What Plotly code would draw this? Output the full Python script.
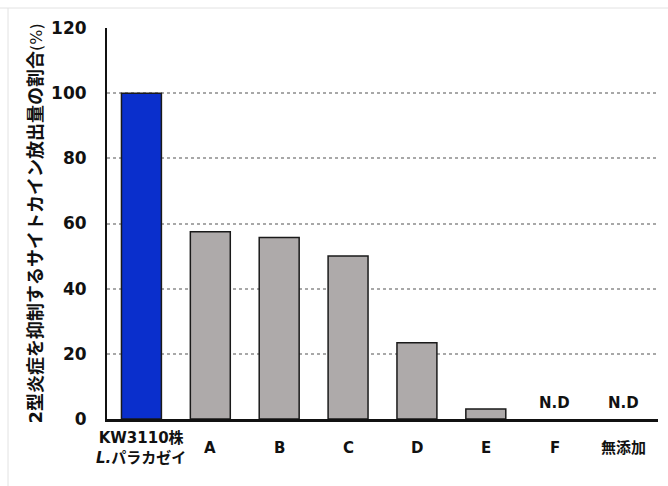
import plotly.graph_objects as go

# Categories and values (% of cytokine release relative to KW3110)
categories = ["KW3110", "A", "B", "C", "D", "E", "F", "無添加"]
tick_labels = ["KW3110株<br><i>L.</i>パラカゼイ", "A", "B", "C", "D", "E", "F", "無添加"]
values = [100, 57.5, 55.7, 50.0, 23.4, 3.1, 0, 0]
nd_categories = ["F", "無添加"]

bar_colors = ["#0a2fcc"] + ["#aeaaaa"] * 7
outline_widths = [1.5 if v > 0 else 0 for v in values]
FONT = "DejaVu Sans, Noto Sans CJK JP, sans-serif"

fig = go.Figure()
fig.add_trace(go.Bar(
    x=categories,
    y=values,
    width=0.58,
    marker=dict(color=bar_colors, line=dict(color="#1a1a1a", width=outline_widths)),
    hoverinfo="x+y",
))

# Category labels below the axis
annotations = []
for cat, lab in zip(categories, tick_labels):
    annotations.append(dict(
        x=cat, y=0, xref="x", yref="y", text=f"<b>{lab}</b>",
        showarrow=False, yanchor="middle", xanchor="center",
        yshift=-29, font=dict(family=FONT, size=15, color="#111"),
    ))

# "N.D" markers for undetected samples
for cat in nd_categories:
    annotations.append(dict(
        x=cat, y=0, xref="x", yref="y", text="<b>N.D</b>",
        showarrow=False, yanchor="middle", yshift=16,
        font=dict(family=FONT, size=15, color="#111"),
    ))

# Y-axis title
annotations.append(dict(
    x=0, y=0.5, xref="paper", yref="paper",
    text="<b>2型炎症を抑制するサイトカイン放出量の割合</b><span style='font-size:16px'>(%)</span>",
    textangle=-90, showarrow=False, xanchor="center", yanchor="middle",
    xshift=-72, font=dict(family=FONT, size=18, color="#111"),
))

fig.update_layout(
    width=668, height=486,
    margin=dict(l=107, r=10, t=28, b=67),
    paper_bgcolor="white", plot_bgcolor="white",
    showlegend=False,
    annotations=annotations,
    xaxis=dict(
        range=[-0.5, 7.5], showticklabels=False, ticks="",
        showline=True, linecolor="#111", linewidth=3, showgrid=False,
        fixedrange=True,
    ),
    yaxis=dict(
        range=[0, 120], tickvals=[0, 20, 40, 60, 80, 100, 120],
        showline=True, linecolor="#111", linewidth=2,
        showgrid=True, gridcolor="#a8a8a8", gridwidth=2, griddash="dot",
        zeroline=False, ticks="", ticklabelstandoff=15,
        tickfont=dict(family=FONT, size=17, color="#111", weight="bold"),
        fixedrange=True,
    ),
    shapes=[
        dict(type="line", xref="paper", yref="paper", x0=-107/551, x1=1.02,
             y0=1 + 20/391, y1=1 + 20/391, line=dict(color="#e2e2e2", width=1)),
        dict(type="line", xref="paper", yref="paper", x0=-99/551, x1=-99/551,
             y0=-67/391, y1=1 + 20/391, line=dict(color="#e2e2e2", width=1)),
    ],
)

fig.write_html("out.html")
